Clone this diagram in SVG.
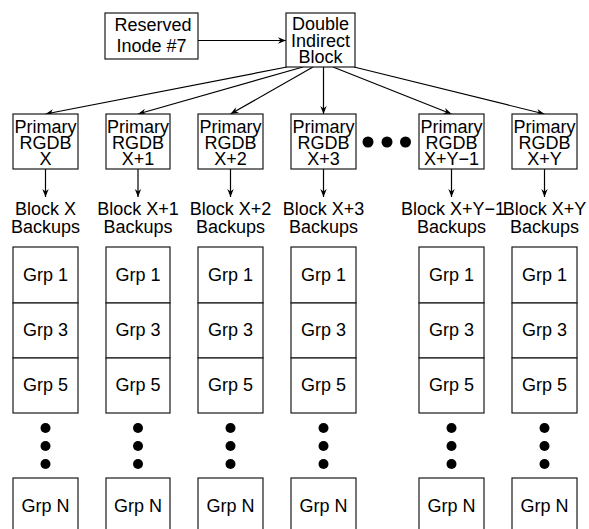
<svg xmlns="http://www.w3.org/2000/svg" width="589" height="529" viewBox="0 0 589 529">
<defs>
<style>
.b{fill:#fff;stroke:#1a1a1a;stroke-width:1.2}
.t{font-family:"Liberation Sans",Arial,sans-serif;font-size:18px;fill:#000;text-anchor:middle}
.c{stroke:#000;stroke-width:1.2;fill:none;marker-end:url(#ah)}
.d{fill:#000}
</style>
<marker id="ah" viewBox="0 0 10 10" refX="10" refY="5" markerWidth="8" markerHeight="8" markerUnits="userSpaceOnUse" orient="auto">
<path d="M0,1 L10,5 L0,9 L3,5 Z" fill="#000"/>
</marker>
</defs>
<rect width="589" height="529" fill="#fff"/>
<g id="connectors">
<line class="c" x1="198" y1="40.5" x2="286" y2="40.5"/>
<line class="c" x1="287" y1="67" x2="45.5" y2="114"/>
<line class="c" x1="303" y1="67" x2="138" y2="114"/>
<line class="c" x1="313" y1="67" x2="230.5" y2="114"/>
<line class="c" x1="323.5" y1="67" x2="323.5" y2="114"/>
<line class="c" x1="333" y1="67" x2="451.5" y2="114"/>
<line class="c" x1="354" y1="67" x2="544.5" y2="114"/>
<line class="c" x1="45.5" y1="169" x2="45.5" y2="197"/>
<line class="c" x1="138" y1="169" x2="138" y2="197"/>
<line class="c" x1="230.5" y1="169" x2="230.5" y2="197"/>
<line class="c" x1="323.5" y1="169" x2="323.5" y2="197"/>
<line class="c" x1="451.5" y1="169" x2="451.5" y2="197"/>
<line class="c" x1="544.5" y1="169" x2="544.5" y2="197"/>
</g>
<g id="reserved">
<rect class="b" x="105" y="13" width="93" height="46"/>
<text class="t" x="153" y="31">Reserved</text>
<text class="t" x="151.5" y="52">Inode #7</text>
</g>
<g id="double">
<rect class="b" x="286" y="13" width="69" height="54"/>
<text class="t" x="320.5" y="30">Double</text>
<text class="t" x="320.5" y="47">Indirect</text>
<text class="t" x="320.5" y="63">Block</text>
</g>
<g id="hdots">
<circle class="d" cx="368" cy="142" r="5.5"/>
<circle class="d" cx="387" cy="142" r="5.5"/>
<circle class="d" cx="405.5" cy="142" r="5.5"/>
</g>
<g id="col1">
<rect class="b" x="13" y="114" width="65" height="55"/>
<text class="t" x="45.5" y="133">Primary</text><text class="t" x="45.5" y="149">RGDB</text><text class="t" x="45.5" y="165">X</text>
<text class="t" x="45.5" y="215">Block X</text><text class="t" x="45.5" y="233">Backups</text>
<rect class="b" x="13" y="247" width="65" height="56"/><text class="t" x="45.5" y="281">Grp 1</text>
<rect class="b" x="13" y="303" width="65" height="55"/><text class="t" x="45.5" y="336">Grp 3</text>
<rect class="b" x="13" y="358" width="65" height="55"/><text class="t" x="45.5" y="391">Grp 5</text>
<circle class="d" cx="45.5" cy="428" r="5"/><circle class="d" cx="45.5" cy="446" r="5"/><circle class="d" cx="45.5" cy="464" r="5"/>
<rect class="b" x="13" y="478" width="65" height="56"/><text class="t" x="45.5" y="512">Grp N</text>
</g>
<g id="col2">
<rect class="b" x="106" y="114" width="64" height="55"/>
<text class="t" x="138" y="133">Primary</text><text class="t" x="138" y="149">RGDB</text><text class="t" x="138" y="165">X+1</text>
<text class="t" x="138" y="215">Block X+1</text><text class="t" x="138" y="233">Backups</text>
<rect class="b" x="106" y="247" width="64" height="56"/><text class="t" x="138" y="281">Grp 1</text>
<rect class="b" x="106" y="303" width="64" height="55"/><text class="t" x="138" y="336">Grp 3</text>
<rect class="b" x="106" y="358" width="64" height="55"/><text class="t" x="138" y="391">Grp 5</text>
<circle class="d" cx="138" cy="428" r="5"/><circle class="d" cx="138" cy="446" r="5"/><circle class="d" cx="138" cy="464" r="5"/>
<rect class="b" x="106" y="478" width="64" height="56"/><text class="t" x="138" y="512">Grp N</text>
</g>
<g id="col3">
<rect class="b" x="198" y="114" width="65" height="55"/>
<text class="t" x="230.5" y="133">Primary</text><text class="t" x="230.5" y="149">RGDB</text><text class="t" x="230.5" y="165">X+2</text>
<text class="t" x="230.5" y="215">Block X+2</text><text class="t" x="230.5" y="233">Backups</text>
<rect class="b" x="198" y="247" width="65" height="56"/><text class="t" x="230.5" y="281">Grp 1</text>
<rect class="b" x="198" y="303" width="65" height="55"/><text class="t" x="230.5" y="336">Grp 3</text>
<rect class="b" x="198" y="358" width="65" height="55"/><text class="t" x="230.5" y="391">Grp 5</text>
<circle class="d" cx="230.5" cy="428" r="5"/><circle class="d" cx="230.5" cy="446" r="5"/><circle class="d" cx="230.5" cy="464" r="5"/>
<rect class="b" x="198" y="478" width="65" height="56"/><text class="t" x="230.5" y="512">Grp N</text>
</g>
<g id="col4">
<rect class="b" x="291" y="114" width="65" height="55"/>
<text class="t" x="323.5" y="133">Primary</text><text class="t" x="323.5" y="149">RGDB</text><text class="t" x="323.5" y="165">X+3</text>
<text class="t" x="323.5" y="215">Block X+3</text><text class="t" x="323.5" y="233">Backups</text>
<rect class="b" x="291" y="247" width="65" height="56"/><text class="t" x="323.5" y="281">Grp 1</text>
<rect class="b" x="291" y="303" width="65" height="55"/><text class="t" x="323.5" y="336">Grp 3</text>
<rect class="b" x="291" y="358" width="65" height="55"/><text class="t" x="323.5" y="391">Grp 5</text>
<circle class="d" cx="323.5" cy="428" r="5"/><circle class="d" cx="323.5" cy="446" r="5"/><circle class="d" cx="323.5" cy="464" r="5"/>
<rect class="b" x="291" y="478" width="65" height="56"/><text class="t" x="323.5" y="512">Grp N</text>
</g>
<g id="col5">
<rect class="b" x="419" y="114" width="65" height="55"/>
<text class="t" x="451.5" y="133">Primary</text><text class="t" x="451.5" y="149">RGDB</text><text class="t" x="451.5" y="165">X+Y−1</text>
<text class="t" x="453" y="215">Block X+Y−1</text><text class="t" x="451.5" y="233">Backups</text>
<rect class="b" x="419" y="247" width="65" height="56"/><text class="t" x="451.5" y="281">Grp 1</text>
<rect class="b" x="419" y="303" width="65" height="55"/><text class="t" x="451.5" y="336">Grp 3</text>
<rect class="b" x="419" y="358" width="65" height="55"/><text class="t" x="451.5" y="391">Grp 5</text>
<circle class="d" cx="451.5" cy="428" r="5"/><circle class="d" cx="451.5" cy="446" r="5"/><circle class="d" cx="451.5" cy="464" r="5"/>
<rect class="b" x="419" y="478" width="65" height="56"/><text class="t" x="451.5" y="512">Grp N</text>
</g>
<g id="col6">
<rect class="b" x="512" y="114" width="65" height="55"/>
<text class="t" x="544.5" y="133">Primary</text><text class="t" x="544.5" y="149">RGDB</text><text class="t" x="544.5" y="165">X+Y</text>
<text class="t" x="544.5" y="215">Block X+Y</text><text class="t" x="544.5" y="233">Backups</text>
<rect class="b" x="512" y="247" width="65" height="56"/><text class="t" x="544.5" y="281">Grp 1</text>
<rect class="b" x="512" y="303" width="65" height="55"/><text class="t" x="544.5" y="336">Grp 3</text>
<rect class="b" x="512" y="358" width="65" height="55"/><text class="t" x="544.5" y="391">Grp 5</text>
<circle class="d" cx="544.5" cy="428" r="5"/><circle class="d" cx="544.5" cy="446" r="5"/><circle class="d" cx="544.5" cy="464" r="5"/>
<rect class="b" x="512" y="478" width="65" height="56"/><text class="t" x="544.5" y="512">Grp N</text>
</g>
</svg>
